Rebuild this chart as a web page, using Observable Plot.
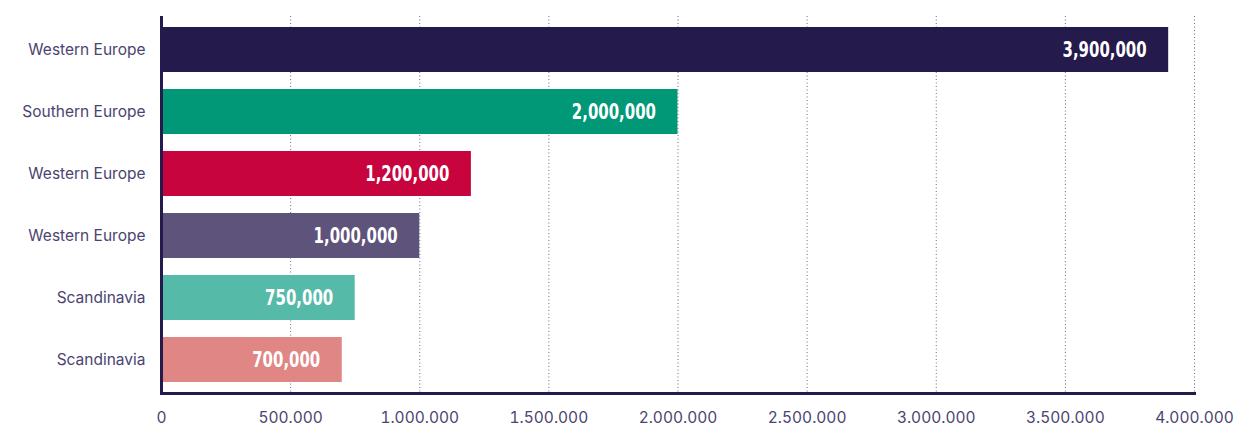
<!DOCTYPE html>
<html>
<head>
<meta charset="utf-8">
<script src="https://cdn.jsdelivr.net/npm/d3@7"></script>
<script src="https://cdn.jsdelivr.net/npm/@observablehq/plot@0.6"></script>
<style>
  html, body { margin: 0; padding: 0; background: #fff; }
  #chart svg { display: block; }
</style>
</head>
<body>
<div id="chart"></div>
<script>
const regions = ["Western Europe", "Southern Europe", "Western Europe", "Western Europe", "Scandinavia", "Scandinavia"];
const values = [3900000, 2000000, 1200000, 1000000, 750000, 700000];
const colors = ["#241a4b", "#009877", "#c8043f", "#5e537a", "#55bba8", "#e08685"];
const xTicks = [0, 500000, 1000000, 1500000, 2000000, 2500000, 3000000, 3500000, 4000000];

const data = regions.map((r, i) => ({idx: i, region: r, value: values[i], color: colors[i]}));
const dotFmt = d => d3.format(",")(d).replace(/,/g, ".");
const commaFmt = d3.format(",");

const chart = Plot.plot({
  width: 1236,
  height: 427,
  marginTop: 16,
  marginBottom: 34,
  marginLeft: 161,
  marginRight: 42,
  style: {fontFamily: "Inter, Lato, sans-serif", color: "#4b4470", background: "#fff"},
  x: {domain: [0, 4000000], ticks: xTicks, tickFormat: dotFmt, tickSize: 0, tickPadding: 18, label: null},
  y: {domain: data.map(d => d.idx), paddingInner: 0.28, paddingOuter: 0.14, tickFormat: i => regions[i], tickSize: 0, tickPadding: 16, label: null},
  marks: [
    Plot.ruleX(xTicks.filter(t => t > 0), {stroke: "#6e6890", strokeWidth: 1, strokeDasharray: "1,2.5"}),
    Plot.barX(data, {y: "idx", x: "value", fill: "color"}),
    Plot.text(data, {y: "idx", x: "value", text: d => commaFmt(d.value), dx: -22, textAnchor: "end", fill: "#fff", fontWeight: "bold", fontSize: 22, fontFamily: "'DejaVu Sans', sans-serif", className: "vlabel"}),
    Plot.ruleX([0], {stroke: "#241a4b", strokeWidth: 3}),
    Plot.axisX({ticks: xTicks, tickFormat: dotFmt, tickSize: 0, tickPadding: 18, fontSize: 15.5, fill: "#4b4470"}),
    Plot.axisY({tickFormat: i => regions[i], tickSize: 0, tickPadding: 16, fontSize: 15.5, fill: "#4b4470"}),
    Plot.frame({anchor: "bottom", stroke: "#241a4b", strokeWidth: 3})
  ]
});
document.getElementById("chart").append(chart);

// condense the value labels horizontally (anchored at their right end)
chart.querySelectorAll(".vlabel text").forEach(t => {
  const tr = t.getAttribute("transform");
  if (tr) {
    t.setAttribute("transform", tr + " scale(0.68,1)");
  } else {
    const x = +t.getAttribute("x") || 0, y = +t.getAttribute("y") || 0;
    t.removeAttribute("x"); t.removeAttribute("y");
    t.setAttribute("transform", `translate(${x},${y}) scale(0.68,1)`);
  }
});
</script>
</body>
</html>
